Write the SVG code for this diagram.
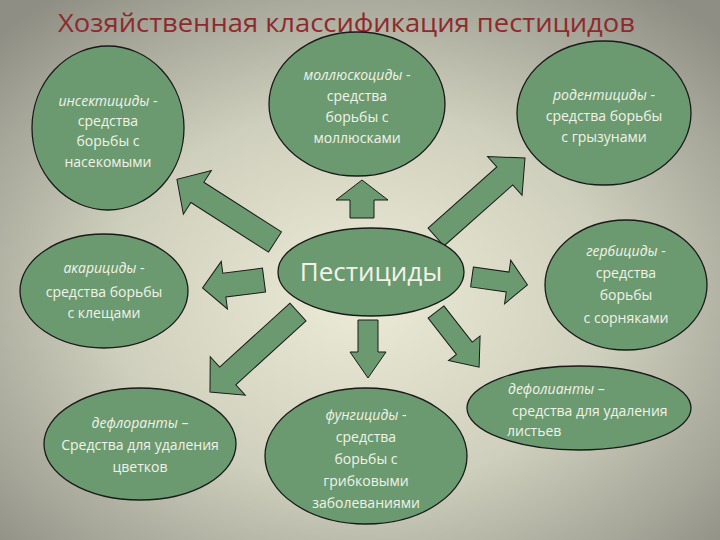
<svg xmlns="http://www.w3.org/2000/svg" width="720" height="540" viewBox="0 0 720 540">
<defs>
<radialGradient id="bg" cx="0.5" cy="0.55" r="0.7">
<stop offset="0" stop-color="#ecebd6"/><stop offset="0.5" stop-color="#cfcfbd"/><stop offset="1" stop-color="#8e8e84"/>
</radialGradient>
</defs>
<style>
.n{fill:#6b9a70;stroke:#1a1a1a;stroke-width:1.3}
.a{fill:#6b9a70;stroke:#1a1a1a;stroke-width:1}
text{font-family:"Open Sans","Liberation Sans",sans-serif;fill:#f2f2e8;font-size:14px;text-anchor:middle}
.i{font-style:italic}
.t{fill:#8e2a2e;font-size:26px;text-anchor:start}
</style>
<rect width="720" height="540" fill="url(#bg)"/>
<text class="t" x="58" y="32" textLength="577" lengthAdjust="spacingAndGlyphs">Хозяйственная классификация пестицидов</text>
<g id="connectors">
<polygon class="a" points="0,-12 95,-12 95,-26 120,0 95,26 95,12 0,12" transform="translate(275,242) rotate(212.6) scale(0.97,1)"/>
<polygon class="a" points="0,-12 18,-12 18,-26 38,0 18,26 18,12 0,12" transform="translate(362,218) rotate(-90)"/>
<polygon class="a" points="0,-12 92,-12 92,-26 119,0 92,26 92,12 0,12" transform="translate(436,237) rotate(-41.6)"/>
<polygon class="a" points="0,-12 40,-12 40,-24 62,0 40,24 40,12 0,12" transform="translate(264,280) rotate(172.6)"/>
<polygon class="a" points="0,-10 36,-10 36,-22 56,0 36,22 36,10 0,10" transform="translate(472,277) rotate(8)"/>
<polygon class="a" points="0,-12 95,-12 95,-26 119,0 95,26 95,12 0,12" transform="translate(298,312) rotate(137.7)"/>
<polygon class="a" points="0,-10 32,-10 32,-18 58,0 32,18 32,10 0,10" transform="translate(368,320) rotate(90)"/>
<polygon class="a" points="0,-10 46,-10 46,-20 70,0 46,20 46,10 0,10" transform="translate(436,312) rotate(52)"/>
</g>
<g id="insekt"><ellipse class="n" cx="108" cy="128" rx="76" ry="82"/>
<text x="108" y="106"><tspan class="i">инсектициды</tspan> -</text><text x="108" y="126">средства</text><text x="108" y="146">борьбы с</text><text x="108" y="167">насекомыми</text></g>
<g id="mollusk"><ellipse class="n" cx="357" cy="104" rx="88" ry="72"/>
<text x="357" y="80"><tspan class="i">моллюскоциды</tspan> -</text><text x="357" y="101">средства</text><text x="357" y="122">борьбы с</text><text x="357" y="143">моллюсками</text></g>
<g id="rodent"><ellipse class="n" cx="604" cy="113" rx="87" ry="72"/>
<text x="604" y="100"><tspan class="i">родентициды</tspan> -</text><text x="604" y="121">средства борьбы</text><text x="604" y="142">с грызунами</text></g>
<g id="akar"><ellipse class="n" cx="104" cy="291" rx="84" ry="57"/>
<text x="104" y="273"><tspan class="i">акарициды</tspan> -</text><text x="104" y="297">средства борьбы</text><text x="104" y="318">с клещами</text></g>
<g id="pest"><ellipse class="n" cx="371" cy="272" rx="93" ry="44"/>
<text x="371" y="281" style="font-size:26px">Пестициды</text></g>
<g id="gerb"><ellipse class="n" cx="626" cy="285" rx="81" ry="65"/>
<text x="626" y="256"><tspan class="i">гербициды</tspan> -</text><text x="626" y="278">средства</text><text x="626" y="300">борьбы</text><text x="626" y="323">с сорняками</text></g>
<g id="deflor"><ellipse class="n" cx="140" cy="444" rx="96" ry="56"/>
<text x="140" y="428"><tspan class="i">дефлоранты</tspan> –</text><text x="140" y="450">Средства для удаления</text><text x="140" y="472">цветков</text></g>
<g id="fung"><ellipse class="n" cx="366" cy="456" rx="101" ry="68"/>
<text x="366" y="420"><tspan class="i">фунгициды</tspan> -</text><text x="366" y="442">средства</text><text x="366" y="464">борьбы с</text><text x="366" y="486">грибковыми</text><text x="366" y="508">заболеваниями</text></g>
<g id="defol"><ellipse class="n" cx="579" cy="408" rx="112" ry="42"/>
<text x="508" y="394" style="text-anchor:start"><tspan class="i">дефолианты</tspan> –</text><text x="512" y="416" style="text-anchor:start">средства для удаления</text><text x="507" y="436" style="text-anchor:start">листьев</text></g>
</svg>
